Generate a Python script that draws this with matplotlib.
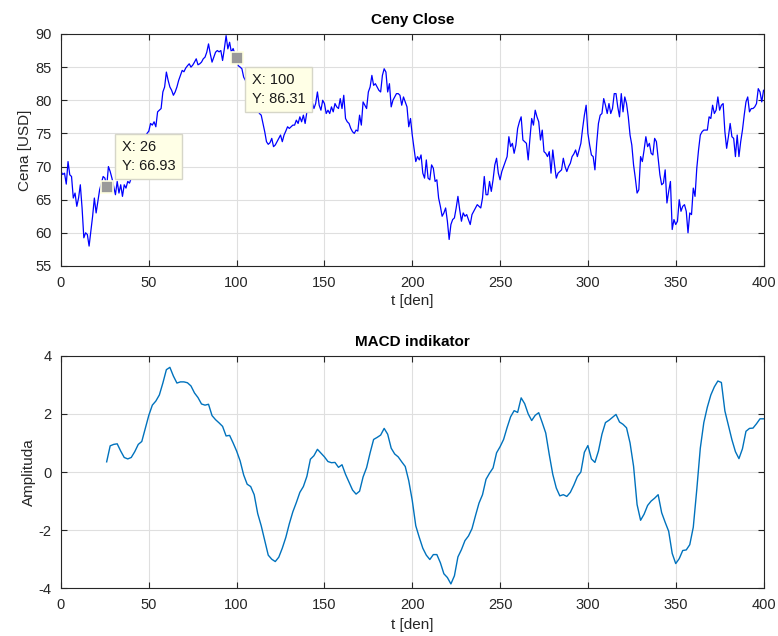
import numpy as np
import matplotlib
matplotlib.use("Agg")
import matplotlib.pyplot as plt

# ---------------- data ----------------
price = [
    69.25, 68.8, 69.0, 67.35, 70.75, 68.75, 68.5, 65.25, 66, 64,
    65.25, 67.25, 63.75, 59.25, 60, 59.75, 58, 60.25, 62.5, 65.25,
    63, 64.75, 66.5, 67.5, 68.5, 68.25, 66.93, 70, 69.25, 68.25,
    67, 65.75, 67.75, 66, 67.25, 65.5, 67.25, 66.75, 67.75, 67.5,
    68.25, 69, 69.5, 70.5, 71.5, 72, 73, 73.5, 74.5, 75,
    75.35, 76.5, 76.25, 76.75, 76, 78.25, 78.5, 78.75, 81.25, 82,
    84.25, 83, 82, 81.5, 80.75, 81.25, 82, 83, 83.75, 84.5,
    84.3, 84.85, 85.2, 85.5, 85, 85.3, 85.75, 86.25, 85.35, 85.5,
    85.75, 86.25, 86.5, 87.25, 88.5, 87, 85.75, 86.5, 87.25, 87.5,
    87.3, 87.5, 86, 87.75, 89.75, 87.75, 88.75, 87.25, 87.8, 87,
    86.31, 85.2, 85, 84.75, 83.5, 83, 82.2, 81, 80.5, 79.5,
    79.8, 78.8, 78.5, 78, 77.75, 76.5, 75.25, 73.75, 73.35, 73.6,
    74.25, 73, 73.25, 73.75, 74.25, 74.75, 73.75, 74.75, 75.35, 76,
    75.75, 76, 76.25, 76.25, 77, 76.5, 77.5, 76.75, 77.75, 76.5,
    78.25, 79, 78.5, 79.75, 78.75, 79.5, 81.25, 79.25, 78.5, 80,
    79.5, 78, 78.5, 78, 79, 78.25, 79.5, 79, 78.75, 80.25,
    78.75, 80.75, 77.25, 76.75, 76.5, 75.75, 75.25, 75, 75.5, 75.35,
    77.75, 76.25, 79.75, 79.25, 78.75, 81.25, 82, 83.75, 82.25, 82.5,
    82, 81.5, 81.25, 83.75, 84.75, 84.25, 81.25, 82.5, 79, 80,
    80.5, 81, 81, 80.75, 79.25, 80.5, 79.75, 79, 76, 77.25,
    74.75, 72.75, 70.75, 71.5, 71, 71.75, 69, 68.25, 71, 68.25,
    68, 70.25, 69.75, 67.75, 68, 65.25, 64, 62.5, 63, 63.75,
    61.75, 59, 61.25, 62, 62.25, 63.75, 65.5, 63.5, 61.75, 63,
    62.5, 62.75, 62, 61.25, 62.75, 63.25, 63.75, 64.25, 64, 63.75,
    65.25, 68.5, 65.75, 65.75, 67.75, 66.25, 68, 70.25, 71.25, 69,
    68, 69.25, 70, 70.75, 71.5, 74.5, 73, 73.5, 72, 73.25,
    75.75, 76.75, 77.5, 74, 73.75, 73.5, 71, 74.25, 77.25, 76.25,
    78.5, 77.5, 76.75, 74, 75.5, 72.25, 72, 71.5, 72.25, 69,
    72.5, 70.25, 68.25, 69, 69.25, 69.5, 71.25, 70, 69.25, 70,
    70.5, 71.5, 71.9, 72.5, 71.5, 72.5, 73.5, 75.75, 77.75, 79.25,
    75, 73.25, 71.75, 71.5, 69.5, 73.5, 76.5, 77.75, 78, 80.25,
    79.25, 78, 79.5, 78, 78.75, 81, 81, 79, 77.5, 81,
    78.25, 80.5, 79.5, 77.5, 74.75, 73.25, 70.25, 68.25, 66, 66.5,
    71.5, 70.75, 72.5, 74.5, 73, 73.5, 72, 71.75, 74.25, 73.75,
    71.25, 68.75, 67.25, 67.5, 69.5, 64.5, 66.25, 67.75, 60.5, 62,
    61.25, 61.75, 65, 63.25, 64, 64.25, 63.25, 60, 63, 62.75,
    66.75, 65.5, 69.75, 72.5, 74.75, 75.25, 75.5, 75.5, 75.5, 77.5,
    77.25, 79.25, 78, 78.5, 80.5, 78.5, 79.25, 79.5, 75.25, 72.75,
    74.5, 76.5, 74.5, 74.25, 71.5, 74.75, 71.5, 73.75, 75.5, 77.75,
    79.75, 80.5, 78.25, 78.75, 78.75, 79, 79.5, 81.75, 81.25, 79.75,
    81.5,
]
days = np.arange(len(price))

macd_days = np.arange(26, 401, 2)
macd = [
    0.35, 0.9, 0.95, 0.97, 0.72, 0.5, 0.45, 0.5, 0.7, 0.95,
    1.05, 1.5, 1.95, 2.3, 2.44, 2.65, 3.06, 3.52, 3.6, 3.3,
    3.06, 3.1, 3.1, 3.07, 2.96, 2.72, 2.56, 2.34, 2.3, 2.33,
    1.94, 1.8, 1.69, 1.57, 1.24, 1.26, 1.0, 0.72, 0.38, -0.1,
    -0.42, -0.5, -0.78, -1.43, -1.85, -2.35, -2.86, -3.0, -3.08, -2.93,
    -2.62, -2.25, -1.78, -1.37, -1.05, -0.7, -0.5, -0.15, 0.44, 0.56,
    0.78, 0.65, 0.52, 0.36, 0.32, 0.33, 0.16, 0.25, -0.08, -0.35,
    -0.62, -0.76, -0.66, -0.17, 0.15, 0.66, 1.12, 1.19, 1.27, 1.5,
    1.3, 0.82, 0.62, 0.52, 0.35, 0.19, -0.3, -0.98, -1.85, -2.25,
    -2.62, -2.86, -3.01, -2.84, -2.84, -3.12, -3.5, -3.63, -3.85, -3.57,
    -2.92, -2.67, -2.36, -2.2, -1.95, -1.5, -1.07, -0.78, -0.25, -0.04,
    0.14, 0.66, 0.87, 1.12, 1.53, 1.9, 2.11, 2.05, 2.55, 2.35,
    2.0, 1.77, 1.95, 2.04, 1.7, 1.34, 0.6, -0.08, -0.55, -0.82,
    -0.78, -0.84, -0.7, -0.45, -0.16, 0.0, 0.68, 0.91, 0.45, 0.33,
    0.72, 1.3, 1.7, 1.78, 1.88, 1.98, 1.72, 1.64, 1.52, 1.0,
    0.2, -1.12, -1.66, -1.45, -1.15, -1.0, -0.9, -0.78, -1.4, -1.73,
    -2.04, -2.8, -3.15, -2.98, -2.7, -2.68, -2.5, -1.9, -0.6, 0.82,
    1.7, 2.23, 2.65, 2.93, 3.13, 3.08, 2.1, 1.6, 1.11, 0.7,
    0.46, 0.8, 1.4, 1.5, 1.51, 1.66, 1.83, 1.83,
]

tip_days = [26, 100]

x_ticks = [0, 50, 100, 150, 200, 250, 300, 350, 400]
price_ticks = [55, 60, 65, 70, 75, 80, 85, 90]
macd_ticks = [-4, -2, 0, 2, 4]

# ---------------- styling ----------------
plt.rcParams['font.family'] = ['Liberation Sans', 'DejaVu Sans']
plt.rcParams['axes.unicode_minus'] = False

TXT = '#262626'

fig = plt.figure(figsize=(7.78, 6.36), dpi=100)
ax1 = fig.add_axes([0.0784, 0.5818, 0.903, 0.3648])
ax2 = fig.add_axes([0.0784, 0.0750, 0.903, 0.3657])


def style(ax):
    ax.grid(True, color='#DFDFDF', linewidth=0.8)
    ax.set_axisbelow(True)
    for s in ax.spines.values():
        s.set_color(TXT)
        s.set_linewidth(0.8)
    ax.tick_params(direction='in', top=True, right=True, length=4,
                   width=0.8, colors=TXT, labelsize=10.5, pad=7)


# ---------------- top: price ----------------
ax1.plot(days, price, color='#0000FF', linewidth=0.9, zorder=2)
ax1.set_xlim(0, 400)
ax1.set_ylim(55, 90)
ax1.set_xticks(x_ticks)
ax1.set_yticks(price_ticks)
style(ax1)
ax1.set_title('Ceny Close', fontsize=11, fontweight='bold', color='black', pad=7)
ax1.set_xlabel('t [den]', fontsize=11, color=TXT, labelpad=3)
ax1.set_ylabel('Cena [USD]', fontsize=11, color=TXT, labelpad=2)

offsets = {26: ((15, 14), 'bottom'), 100: ((15, -15), 'top')}
for d in tip_days:
    yv = price[d]
    ax1.plot([d], [yv], marker='s', markersize=8, markerfacecolor='#9A9A9A',
             markeredgecolor='#FFFFE0', markeredgewidth=1.2, zorder=5,
             linestyle='none')
    off, va = offsets[d]
    ax1.annotate(f'X: {d}\nY: {yv:.2f}', xy=(d, yv), xytext=off,
                 textcoords='offset pixels', ha='left', va=va, fontsize=10.5,
                 color='#1a1a1a', linespacing=1.4, zorder=6,
                 bbox=dict(boxstyle='square,pad=0.45', facecolor='#FFFFE6',
                           edgecolor='#D6D6C8', linewidth=1.0))

# ---------------- bottom: MACD ----------------
ax2.plot(macd_days, macd, color='#0072BD', linewidth=1.0, zorder=2)
ax2.set_xlim(0, 400)
ax2.set_ylim(-4, 4)
ax2.set_xticks(x_ticks)
ax2.set_yticks(macd_ticks)
style(ax2)
ax2.set_title('MACD indikator', fontsize=11, fontweight='bold', color='black', pad=7)
ax2.set_xlabel('t [den]', fontsize=11, color=TXT, labelpad=4)
ax2.set_ylabel('Amplituda', fontsize=11, color=TXT, labelpad=2)

fig.savefig('out.png', dpi=100)
